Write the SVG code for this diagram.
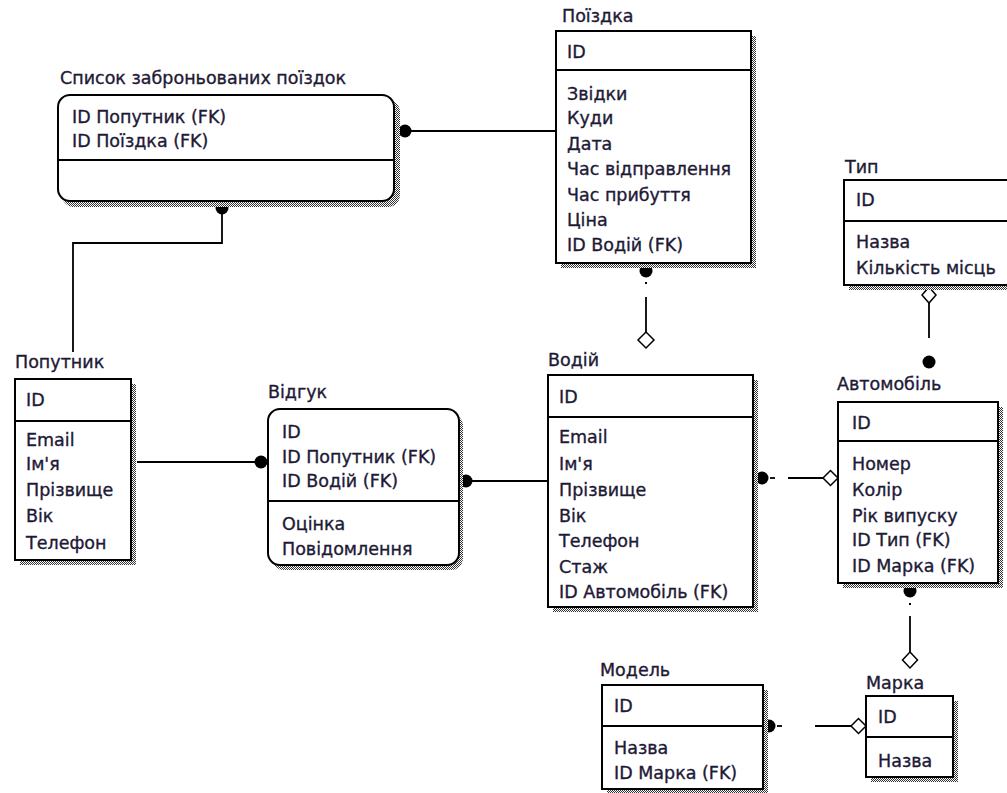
<svg xmlns="http://www.w3.org/2000/svg" width="1007" height="793" viewBox="0 0 1007 793">
  <style>
    text { font-family: "DejaVu Sans", "Liberation Sans", sans-serif; font-size: 17.5px; fill: #1e1a36; stroke: #1e1a36; stroke-width: 0.35; }
    .box { fill: #fff; stroke: #000; stroke-width: 2; }
    .div { stroke: #000; stroke-width: 2; }
    .shade { fill: url(#dots); }
    .link { fill: none; stroke: #000; stroke-width: 1.8; }
    .dot { fill: #000; }
    .open { fill: #fff; stroke: #000; stroke-width: 1.5; }
  </style>
  <defs>
    <pattern id="dots" width="2" height="2" patternUnits="userSpaceOnUse">
      <rect width="2" height="2" fill="#fff"/>
      <rect width="1" height="1" fill="#333"/>
      <rect x="1" y="1" width="1" height="1" fill="#333"/>
    </pattern>
  </defs>
  <rect width="1007" height="793" fill="#fff"/>

  <!-- connectors -->
  <g id="connectors">
    <!-- Список -> Поїздка -->
    <line class="link" x1="410" y1="131" x2="556" y2="131"/>
    <circle class="dot" cx="405" cy="131" r="6.5"/>
    <!-- Список -> Попутник -->
    <polyline class="link" points="222,212 222,243 73,243 73,352"/>
    <circle class="dot" cx="222" cy="208" r="6.5"/>
    <!-- Попутник -> Відгук -->
    <line class="link" x1="137" y1="462" x2="256" y2="462"/>
    <circle class="dot" cx="261" cy="462" r="6.5"/>
    <!-- Відгук -> Водій -->
    <line class="link" x1="470" y1="481" x2="548" y2="481"/>
    <circle class="dot" cx="466" cy="481" r="6.5"/>
    <!-- Поїздка -> Водій -->
    <circle class="dot" cx="646" cy="271" r="6.5"/>
    <rect x="645" y="282" width="2" height="2" fill="#000"/>
    <line class="link" x1="646" y1="297" x2="646" y2="332"/>
    <path class="open" d="M646,332 L654,340 L646,348 L638,340 Z"/>
    <!-- Водій -> Автомобіль -->
    <circle class="dot" cx="762" cy="478" r="6.5"/>
    <line class="link" x1="770" y1="478" x2="775" y2="478"/>
    <line class="link" x1="788" y1="478" x2="823" y2="478"/>
    <path class="open" d="M823,478 L830.5,470.5 L838,478 L830.5,485.5 Z"/>
    <!-- Тип -> Автомобіль -->
    <path class="open" d="M929,287 L936,295 L929,303 L922,295 Z"/>
    <line class="link" x1="929" y1="303" x2="929" y2="338"/>
    <circle class="dot" cx="929" cy="362" r="6.5"/>
    <!-- Автомобіль -> Марка -->
    <circle class="dot" cx="910" cy="591" r="6.5"/>
    <rect x="909" y="603" width="2" height="2" fill="#000"/>
    <line class="link" x1="910" y1="616" x2="910" y2="652"/>
    <path class="open" d="M910,652 L917.5,660 L910,668 L902.5,660 Z"/>
    <!-- Модель -> Марка -->
    <circle class="dot" cx="769" cy="726" r="6.5"/>
    <line class="link" x1="777" y1="726" x2="782" y2="726"/>
    <line class="link" x1="815" y1="726" x2="851" y2="726"/>
    <path class="open" d="M851,726 L858.5,718.5 L866,726 L858.5,733.5 Z"/>
  </g>

  <!-- Список заброньованих поїздок -->
  <g id="bookings">
    <text x="60" y="84">Список заброньованих поїздок</text>
    <rect class="shade" x="62" y="100" width="338" height="107" rx="12"/>
    <rect class="box" x="58" y="95" width="336" height="106" rx="12"/>
    <line class="div" x1="58" y1="160" x2="394" y2="160"/>
    <text x="72" y="123">ID Попутник (FK)</text>
    <text x="72" y="147">ID Поїздка (FK)</text>
  </g>

  <!-- Поїздка -->
  <g id="trip">
    <text x="562" y="22">Поїздка</text>
    <rect class="shade" x="561" y="36" width="195" height="232"/>
    <rect class="box" x="556" y="31" width="195" height="232"/>
    <line class="div" x1="556" y1="70" x2="751" y2="70"/>
    <text x="567" y="58">ID</text>
    <text x="567" y="100">Звідки</text>
    <text x="567" y="124">Куди</text>
    <text x="567" y="150">Дата</text>
    <text x="567" y="175">Час відправлення</text>
    <text x="567" y="201">Час прибуття</text>
    <text x="567" y="226">Ціна</text>
    <text x="567" y="251">ID Водій (FK)</text>
  </g>

  <!-- Тип -->
  <g id="type">
    <text x="845" y="173">Тип</text>
    <rect class="shade" x="849" y="185" width="170" height="105"/>
    <rect class="box" x="844" y="180" width="170" height="105"/>
    <line class="div" x1="844" y1="221" x2="1014" y2="221"/>
    <text x="856" y="206">ID</text>
    <text x="856" y="248">Назва</text>
    <text x="856" y="274">Кількість місць</text>
  </g>

  <!-- Попутник -->
  <g id="passenger">
    <text x="15" y="368">Попутник</text>
    <rect class="shade" x="20" y="384" width="116" height="181"/>
    <rect class="box" x="15" y="379" width="116" height="181"/>
    <line class="div" x1="15" y1="421" x2="131" y2="421"/>
    <text x="26" y="406">ID</text>
    <text x="26" y="446">Email</text>
    <text x="26" y="470">Ім'я</text>
    <text x="26" y="496">Прізвище</text>
    <text x="26" y="522">Вік</text>
    <text x="26" y="549">Телефон</text>
  </g>

  <!-- Відгук -->
  <g id="review">
    <text x="268" y="398">Відгук</text>
    <rect class="shade" x="272" y="414" width="191" height="156" rx="12"/>
    <rect class="box" x="268" y="409" width="191" height="156" rx="12"/>
    <line class="div" x1="268" y1="501" x2="459" y2="501"/>
    <text x="282" y="438">ID</text>
    <text x="282" y="463">ID Попутник (FK)</text>
    <text x="282" y="487">ID Водій (FK)</text>
    <text x="282" y="530">Оцінка</text>
    <text x="282" y="555">Повідомлення</text>
  </g>

  <!-- Водій -->
  <g id="driver">
    <text x="548" y="366">Водій</text>
    <rect class="shade" x="553" y="380" width="205" height="232"/>
    <rect class="box" x="548" y="375" width="205" height="232"/>
    <line class="div" x1="548" y1="417" x2="753" y2="417"/>
    <text x="559" y="403">ID</text>
    <text x="559" y="443">Email</text>
    <text x="559" y="470">Ім'я</text>
    <text x="559" y="496">Прізвище</text>
    <text x="559" y="522">Вік</text>
    <text x="559" y="547">Телефон</text>
    <text x="559" y="573">Стаж</text>
    <text x="559" y="598">ID Автомобіль (FK)</text>
  </g>

  <!-- Автомобіль -->
  <g id="car">
    <text x="837" y="390">Автомобіль</text>
    <rect class="shade" x="843" y="407" width="160" height="181"/>
    <rect class="box" x="838" y="402" width="160" height="181"/>
    <line class="div" x1="838" y1="441" x2="998" y2="441"/>
    <text x="852" y="429">ID</text>
    <text x="852" y="470">Номер</text>
    <text x="852" y="496">Колір</text>
    <text x="852" y="522">Рік випуску</text>
    <text x="852" y="546">ID Тип (FK)</text>
    <text x="852" y="572">ID Марка (FK)</text>
  </g>

  <!-- Модель -->
  <g id="model">
    <text x="600" y="676">Модель</text>
    <rect class="shade" x="607" y="690" width="161" height="104"/>
    <rect class="box" x="602" y="685" width="161" height="104"/>
    <line class="div" x1="602" y1="726" x2="763" y2="726"/>
    <text x="614" y="712">ID</text>
    <text x="614" y="754">Назва</text>
    <text x="614" y="779">ID Марка (FK)</text>
  </g>

  <!-- Марка -->
  <g id="brand">
    <text x="866" y="689">Марка</text>
    <rect class="shade" x="871" y="701" width="87" height="81"/>
    <rect class="box" x="866" y="696" width="87" height="81"/>
    <line class="div" x1="866" y1="737" x2="953" y2="737"/>
    <text x="878" y="723">ID</text>
    <text x="878" y="767">Назва</text>
  </g>
</svg>
